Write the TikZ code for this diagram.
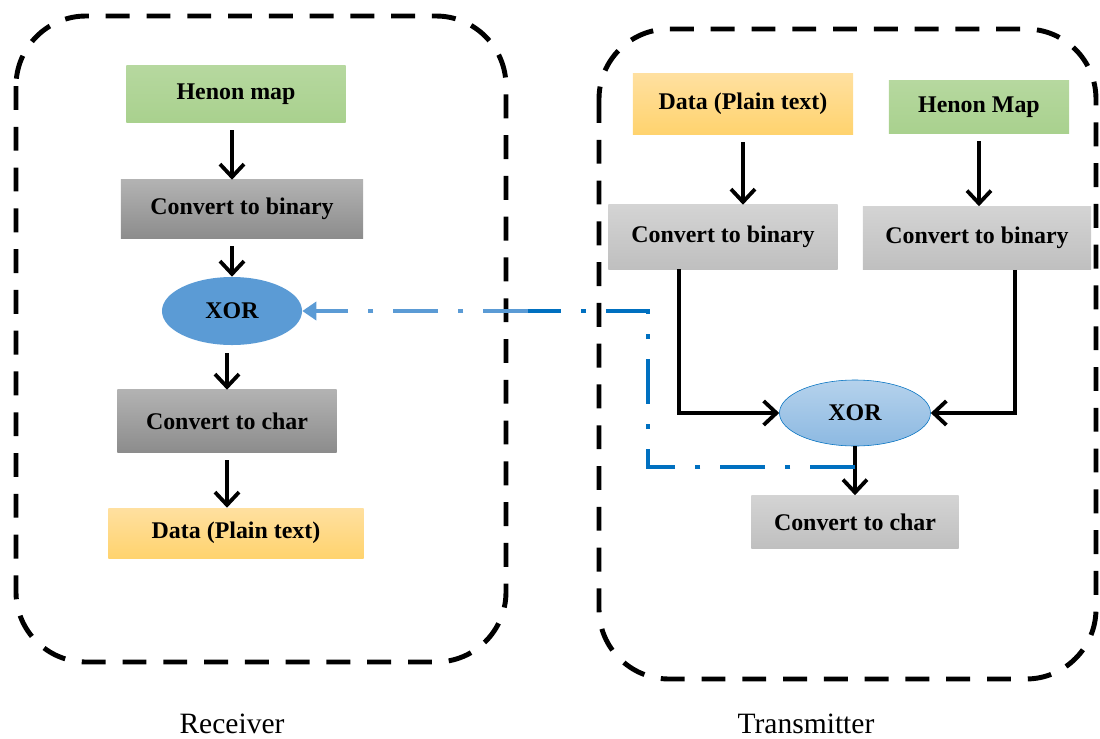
\documentclass[tikz,border=0pt]{standalone}
\usepackage{xcolor}
\usepackage{fontspec}
\setmainfont{Liberation Serif}
\usepackage{tikz}
\usetikzlibrary{positioning, shapes, shapes.geometric, arrows.meta, calc}
\definecolor{mapgreen}{HTML}{A9D18E}
\definecolor{xorblue}{HTML}{5B9BD5}
\definecolor{linkdark}{HTML}{0070C0}
\definecolor{datatop}{HTML}{FFE0A0}
\definecolor{databottom}{HTML}{FFD36E}
\tikzset{
    stage/.style={rectangle, inner sep=0pt, align=center, font=\fontsize{17}{20}\selectfont\bfseries},
    grayblock/.style={stage, top color=black!30, bottom color=black!45},
    lightblock/.style={stage, top color=black!17, bottom color=black!25},
    mapblock/.style={stage, top color=mapgreen!85, bottom color=mapgreen},
    datablock/.style={stage, top color=datatop, bottom color=databottom},
    xorop/.style={ellipse, inner sep=0pt, font=\fontsize{17}{20}\selectfont\bfseries},
    frame/.style={draw, line width=3.5pt, dash pattern=on 17pt off 12pt, rounded corners=1.75cm},
    flow/.style={line width=2.7pt, -{Straight Barb[length=0.32cm, width=0.6cm]}, shorten <=0.2cm},
    signal/.style={line width=2.8pt, dash pattern=on 32pt off 14pt on 4pt off 14pt},
    caption/.style={font=\fontsize{21}{24}\selectfont},
}
\begin{document}
\begin{tikzpicture}[x=0.025cm, y=-0.025cm]
    \useasboundingbox (0,0) rectangle (1100,738);

    % the two sides
    \draw[frame] (16,16) rectangle (506,662);
    \draw[frame] (599,29) rectangle (1096,679);
    \node[caption] (rxlabel) at (232,724) {Receiver};
    \node[caption] (txlabel) at (806,724) {Transmitter};

    % receiver
    \node[mapblock, minimum width=5.475cm, minimum height=1.4cm] (lhenon) at (236,94) {Henon map};
    \node[grayblock, minimum width=6.05cm, minimum height=1.45cm] (lbin) at (242,209) {Convert to binary};
    \node[xorop, fill=xorblue, minimum width=3.5cm, minimum height=1.7cm] (lxor) at (232,311) {XOR};
    \node[grayblock, minimum width=5.475cm, minimum height=1.55cm] (lchar) at (227,421) {Convert to char};
    \node[datablock, minimum width=6.375cm, minimum height=1.25cm] (ldata) at (236,533) {Data (Plain text)};

    \draw[flow] (lhenon.south -| lxor) -- (lbin.north -| lxor);
    \draw[flow] (lbin.south -| lxor) -- (lxor.north);
    \draw[flow] (lxor.south -| lchar) -- (lchar.north);
    \draw[flow] (lchar.south) -- (ldata.north -| lchar);

    % transmitter
    \node[datablock, minimum width=5.5cm, minimum height=1.5cm] (rdata) at (743,104) {Data (Plain text)};
    \node[mapblock, minimum width=4.5cm, minimum height=1.3cm] (rhenon) at (979,107) {Henon Map};
    \node[lightblock, minimum width=5.725cm, minimum height=1.6cm] (rbin1) at (723,237) {Convert to binary};
    \node[lightblock, minimum width=5.7cm, minimum height=1.575cm] (rbin2) at (977,238) {Convert to binary};
    \node[xorop, draw=linkdark, thin, top color=xorblue!45, bottom color=xorblue!70, minimum width=3.775cm, minimum height=1.65cm] (rxor) at (855,413) {XOR};
    \node[lightblock, minimum width=5.175cm, minimum height=1.325cm] (rchar) at (855,522) {Convert to char};

    \draw[flow] (rdata.south) -- (rbin1.north -| rdata);
    \draw[flow] (rhenon.south) -- (rbin2.north -| rhenon);
    \draw[flow, shorten <=0pt] ([xshift=-1.1cm]rbin1.south) |- (rxor.west);
    \draw[flow, shorten <=0pt] ([xshift=0.95cm]rbin2.south) |- (rxor.east);
    \draw[flow, shorten <=0pt] (rxor.south) -- (rchar.north);

    % key link back to the receiver
    \coordinate (tap) at ($(rxor.south)!0.42!(rchar.north)$);
    \coordinate (bend) at (648,311);
    \coordinate (fade) at (528,311);
    \draw[signal, linkdark] (tap) -| (bend) -- (fade);
    \draw[signal, xorblue, -{Triangle[length=0.35cm, width=0.45cm]}] (fade) -- (lxor.east);
\end{tikzpicture}
\end{document}
